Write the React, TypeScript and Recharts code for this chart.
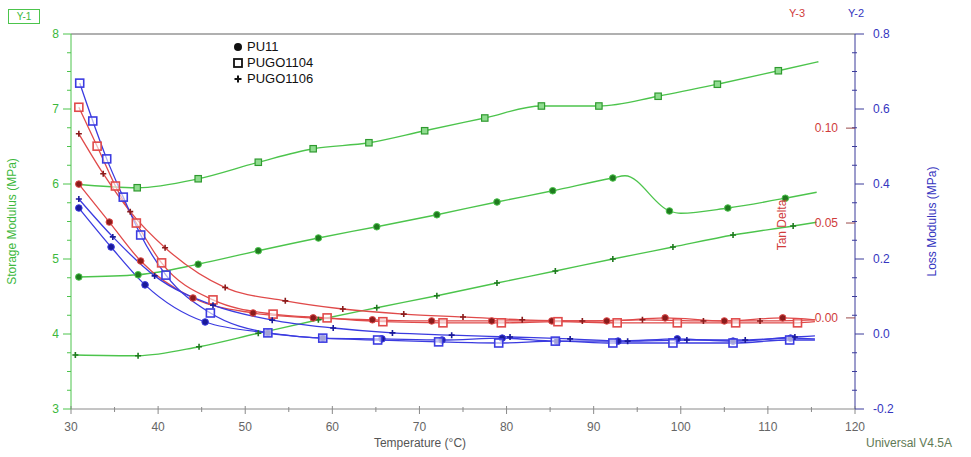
import { ComposedChart, Line, XAxis, YAxis, ReferenceLine } from 'recharts';

// temperature ticks (°C)
const X_MAJOR = [30, 40, 50, 60, 70, 80, 90, 100, 110, 120];
const X_MINOR = [35, 45, 55, 65, 75, 85, 95, 105, 115];
// storage modulus ticks (MPa)
const SM_MAJOR = [3, 4, 5, 6, 7, 8];
const SM_MINOR = [3.25, 3.5, 3.75, 4.25, 4.5, 4.75, 5.25, 5.5, 5.75, 6.25, 6.5, 6.75, 7.25, 7.5, 7.75];
// loss modulus ticks (MPa)
const LM_MAJOR = [-0.2, 0, 0.2, 0.4, 0.6, 0.8];
const LM_MINOR = [-0.15, -0.1, -0.05, 0.05, 0.1, 0.15, 0.25, 0.3, 0.35, 0.45, 0.5, 0.55, 0.65, 0.7, 0.75];
// tan delta ticks
const TD_TICKS = [0, 0.05, 0.1];

// storage modulus
const SM_PU11_T = [30.9, 37.7, 44.6, 51.5, 58.4, 65.1, 72.0, 78.9, 85.3, 92.2, 93.6, 98.7, 100.0, 105.4, 112.0, 115.6];
const SM_PU11 = [4.76, 4.79, 4.93, 5.11, 5.28, 5.43, 5.59, 5.76, 5.91, 6.08, 6.11, 5.64, 5.61, 5.68, 5.81, 5.89];
const SM_1104_T = [30.5, 37.6, 44.6, 51.5, 57.8, 64.2, 70.6, 77.5, 84.0, 90.6, 97.4, 104.2, 111.2, 115.8];
const SM_1104 = [6.0, 5.95, 6.07, 6.29, 6.47, 6.55, 6.71, 6.88, 7.04, 7.04, 7.17, 7.33, 7.51, 7.63];
const SM_1106_T = [30.5, 37.7, 44.7, 51.5, 58.4, 65.1, 72.0, 78.9, 85.6, 92.2, 99.1, 106.0, 112.9, 115.6];
const SM_1106 = [3.72, 3.71, 3.83, 4.01, 4.19, 4.35, 4.51, 4.68, 4.84, 5.0, 5.16, 5.32, 5.44, 5.49];

// loss modulus
const LM_PU11_T = [30.9, 34.6, 38.5, 45.4, 52.6, 58.9, 65.7, 72.6, 79.5, 85.8, 92.8, 99.6, 106.0, 112.6, 115.4];
const LM_PU11 = [0.336, 0.232, 0.131, 0.032, 0.003, -0.011, -0.013, -0.016, -0.011, -0.019, -0.019, -0.013, -0.019, -0.011, -0.013];
const LM_1104_T = [31.0, 32.5, 34.1, 36.0, 38.0, 40.9, 46.0, 52.6, 58.9, 65.2, 72.2, 79.1, 85.6, 92.2, 99.1, 106.0, 112.5, 115.4];
const LM_1104 = [0.669, 0.568, 0.467, 0.365, 0.264, 0.157, 0.056, 0.003, -0.011, -0.016, -0.021, -0.024, -0.019, -0.024, -0.024, -0.024, -0.016, -0.016];
const LM_1106_T = [30.9, 34.8, 39.6, 46.3, 53.1, 60.1, 66.9, 73.7, 80.4, 87.3, 93.9, 100.7, 107.4, 113.1, 115.4];
const LM_1106 = [0.36, 0.259, 0.155, 0.077, 0.037, 0.016, 0.003, -0.003, -0.008, -0.013, -0.019, -0.016, -0.016, -0.008, -0.005];

// tan delta
const TD_PU11_T = [30.9, 34.4, 38.0, 44.0, 50.9, 57.8, 64.6, 71.4, 78.3, 85.2, 91.5, 98.2, 105.0, 111.7, 115.4];
const TD_PU11 = [0.0705, 0.0505, 0.03, 0.0105, 0.0026, 0.0, -0.001, -0.0016, -0.0016, -0.0016, -0.0016, 0.0, -0.0016, 0.0, -0.001];
const TD_1104_T = [30.9, 33.0, 35.1, 37.5, 40.4, 46.3, 53.2, 59.4, 65.8, 72.7, 79.4, 85.9, 92.7, 99.6, 106.3, 113.4, 115.4];
const TD_1104 = [0.111, 0.0905, 0.0695, 0.05, 0.029, 0.0095, 0.002, 0.0, -0.002, -0.0026, -0.0026, -0.002, -0.0026, -0.0026, -0.0026, -0.0026, -0.002];
const TD_1106_T = [30.9, 33.7, 36.8, 40.8, 47.7, 54.6, 61.2, 68.2, 75.0, 81.8, 88.7, 95.6, 102.6, 109.1, 115.4];
const TD_1106 = [0.097, 0.076, 0.056, 0.037, 0.016, 0.009, 0.0047, 0.002, 0.0005, -0.001, -0.0016, -0.001, -0.0016, -0.0016, -0.001];

const LEGEND = ['PU11', 'PUGO1104', 'PUGO1106'];

const W = 971;
const H = 457;
const PLOT = { left: 71, right: 855, top: 34, bottom: 409 };
const FONT = '"Liberation Sans", Arial, sans-serif';

const GREEN = '#4cc44c';
const GREEN_DARK = '#1f7a1f';
const GREEN_TEXT = '#3cb83c';
const BLUE = '#3b3be0';
const BLUE_DARK = '#1a1a9a';
const BLUE_TEXT = '#3535c0';
const RED = '#e04a4a';
const RED_DARK = '#8a1c1c';
const RED_TEXT = '#d03c3c';
const AXIS_GRAY = '#8a8a8a';

type Shape = 'circle' | 'square' | 'plus';

const rows = (t: number[], v: number[]) => t.map((x, i) => ({ t: x, v: v[i] }));

const byAsc = (a: number, b: number) => a - b;

// draws a marker; indices in `bare` are plain curve vertices without a symbol
const makeDot = (shape: Shape, stroke: string, fill: string, bare: number[], small = false) => (props: any) => {
  const { cx, cy, index } = props;
  if (cx == null || cy == null || bare.includes(index)) return <g key={`d${index}`} />;
  if (shape === 'circle') {
    return <circle key={`d${index}`} cx={cx} cy={cy} r={3.3} fill={fill} stroke={stroke} strokeWidth={1} />;
  }
  if (shape === 'square') {
    const h = small ? 3.2 : 4;
    return (
      <rect key={`d${index}`} x={cx - h} y={cy - h} width={2 * h} height={2 * h}
        fill={small ? '#8fdc8f' : '#ffffff'} fillOpacity={small ? 1 : 0.6}
        stroke={small ? '#2f9a2f' : stroke} strokeWidth={small ? 1.2 : 1.6} />
    );
  }
  return (
    <path key={`d${index}`} d={`M${cx - 3},${cy}H${cx + 3}M${cx},${cy - 3}V${cy + 3}`} stroke={fill} strokeWidth={1.6} />
  );
};

type Series = {
  id: string; axis: string; data: { t: number; v: number }[]; color: string; dark: string; shape: Shape; bare: number[]; small?: boolean;
};

const SERIES: Series[] = [
  { id: 'sm-pu11', axis: 'sm', data: rows(SM_PU11_T, SM_PU11), color: GREEN, dark: GREEN_DARK, shape: 'circle', bare: [10, 12, 15] },
  { id: 'sm-1104', axis: 'sm', data: rows(SM_1104_T, SM_1104), color: GREEN, dark: GREEN_DARK, shape: 'square', bare: [0, 13], small: true },
  { id: 'sm-1106', axis: 'sm', data: rows(SM_1106_T, SM_1106), color: GREEN, dark: GREEN_DARK, shape: 'plus', bare: [13] },
  { id: 'td-pu11', axis: 'td', data: rows(TD_PU11_T, TD_PU11), color: RED, dark: RED_DARK, shape: 'circle', bare: [14] },
  { id: 'td-1104', axis: 'td', data: rows(TD_1104_T, TD_1104), color: RED, dark: RED_DARK, shape: 'square', bare: [16] },
  { id: 'td-1106', axis: 'td', data: rows(TD_1106_T, TD_1106), color: RED, dark: RED_DARK, shape: 'plus', bare: [14] },
  { id: 'lm-pu11', axis: 'lm', data: rows(LM_PU11_T, LM_PU11), color: BLUE, dark: BLUE_DARK, shape: 'circle', bare: [14] },
  { id: 'lm-1104', axis: 'lm', data: rows(LM_1104_T, LM_1104), color: BLUE, dark: BLUE_DARK, shape: 'square', bare: [17] },
  { id: 'lm-1106', axis: 'lm', data: rows(LM_1106_T, LM_1106), color: BLUE, dark: BLUE_DARK, shape: 'plus', bare: [14] },
];

const XTick = ({ x, payload }: any) => {
  const major = X_MAJOR.includes(payload.value);
  return (
    <g>
      <line x1={x} x2={x} y1={PLOT.bottom - (major ? 3 : 2)} y2={PLOT.bottom + (major ? 5 : 3)} stroke={AXIS_GRAY} />
      {major && (
        <text x={x} y={431} textAnchor="middle" fill="#666" fontSize={12} fontFamily={FONT}>
          {payload.value}
        </text>
      )}
    </g>
  );
};

const SmTick = ({ y, payload }: any) => {
  const major = SM_MAJOR.includes(payload.value);
  return (
    <g>
      <line x1={PLOT.left - (major ? 8 : 4)} x2={PLOT.left} y1={y} y2={y} stroke={GREEN} />
      {major && (
        <text x={59} y={y + 4} textAnchor="end" fill={GREEN_TEXT} fontSize={12} fontFamily={FONT}>
          {payload.value}
        </text>
      )}
    </g>
  );
};

const LmTick = ({ y, payload }: any) => {
  const major = LM_MAJOR.includes(payload.value);
  return (
    <g>
      {major ? (
        <line x1={PLOT.right} x2={PLOT.right + 9} y1={y} y2={y} stroke="#3a3a9a" />
      ) : (
        <line x1={PLOT.right - 3} x2={PLOT.right + 2} y1={y} y2={y} stroke="#3a3a9a" />
      )}
      {major && (
        <text x={873} y={y + 4} textAnchor="start" fill={BLUE_TEXT} fontSize={12} fontFamily={FONT}>
          {payload.value.toFixed(1)}
        </text>
      )}
    </g>
  );
};

const TdTick = ({ y, payload }: any) => (
  <g>
    <line x1={PLOT.right - 9} x2={PLOT.right} y1={y} y2={y} stroke="#9a4a4a" />
    <text x={838} y={y + 4} textAnchor="end" fill={RED_TEXT} fontSize={12} fontFamily={FONT}>
      {payload.value.toFixed(2)}
    </text>
  </g>
);

const LegendMark = ({ shape }: { shape: Shape }) => (
  <svg width={10} height={10} style={{ marginRight: 4 }}>
    {shape === 'circle' && <circle cx={5} cy={5} r={4} fill="#111" />}
    {shape === 'square' && <rect x={1} y={1} width={8} height={8} fill="none" stroke="#111" strokeWidth={1.8} />}
    {shape === 'plus' && <path d="M1.5,5H8.5M5,1.5V8.5" stroke="#111" strokeWidth={2} />}
  </svg>
);

const LEGEND_SHAPES: Shape[] = ['circle', 'square', 'plus'];

export default function App() {
  return (
    <div style={{ position: 'absolute', left: 0, top: 0, width: W, height: H, background: '#fff', fontFamily: FONT }}>
      <ComposedChart width={W} height={H} margin={{ top: PLOT.top, right: 30, bottom: 0, left: 0 }} style={{ fontFamily: FONT }}>
        <XAxis
          dataKey="t"
          type="number"
          domain={[30, 120]}
          allowDataOverflow
          ticks={[...X_MAJOR, ...X_MINOR].sort(byAsc)}
          interval={0}
          height={48}
          stroke={AXIS_GRAY}
          tickLine={false}
          tick={<XTick />}
          label={{ value: 'Temperature (°C)', position: 'insideBottom', offset: 10, dx: -43, fill: '#555', fontSize: 12 }}
        />
        <YAxis
          yAxisId="sm"
          orientation="left"
          type="number"
          domain={[3, 8]}
          allowDataOverflow
          ticks={[...SM_MAJOR, ...SM_MINOR].sort(byAsc)}
          interval={0}
          width={PLOT.left}
          stroke={GREEN}
          tickLine={false}
          tick={<SmTick />}
          label={{
            value: 'Storage Modulus (MPa)',
            angle: -90,
            position: 'insideLeft',
            offset: 12,
            fill: GREEN_TEXT,
            fontSize: 12,
            style: { textAnchor: 'middle' },
          }}
        />
        <YAxis
          yAxisId="lm"
          orientation="right"
          type="number"
          domain={[-0.2, 0.8]}
          allowDataOverflow
          ticks={[...LM_MAJOR, ...LM_MINOR].sort(byAsc)}
          interval={0}
          width={85}
          stroke="#3a3a9a"
          tickLine={false}
          tick={<LmTick />}
          label={{
            value: 'Loss Modulus (MPa)',
            angle: -90,
            position: 'insideRight',
            offset: 8,
            fill: BLUE_TEXT,
            fontSize: 12,
            style: { textAnchor: 'middle' },
          }}
        />
        <YAxis
          yAxisId="td"
          orientation="right"
          type="number"
          domain={[-0.048, 0.1496]}
          allowDataOverflow
          ticks={TD_TICKS}
          interval={0}
          width={1}
          axisLine={false}
          tickLine={false}
          tick={<TdTick />}
        />
        <ReferenceLine yAxisId="sm" y={8} stroke="#b0b0b0" strokeWidth={2} />
        {SERIES.map((s) => (
          <Line
            key={s.id}
            yAxisId={s.axis}
            data={s.data}
            dataKey="v"
            type="monotone"
            stroke={s.color}
            strokeWidth={1.3}
            dot={makeDot(s.shape, s.color, s.dark, s.bare, s.small)}
            activeDot={false}
            isAnimationActive={false}
          />
        ))}
      </ComposedChart>

      <div
        style={{
          position: 'absolute', left: 8, top: 9, width: 30, height: 13, border: `1px solid ${GREEN}`,
          color: GREEN_TEXT, fontSize: 10, lineHeight: '13px', textAlign: 'center',
        }}
      >
        Y-1
      </div>
      <div style={{ position: 'absolute', left: 789, top: 7, fontSize: 11, color: RED_TEXT }}>Y-3</div>
      <div style={{ position: 'absolute', left: 848, top: 7, fontSize: 11, color: BLUE_TEXT }}>Y-2</div>
      <div style={{ position: 'absolute', left: 866, top: 436, fontSize: 12, color: '#5f7a55' }}>Universal V4.5A</div>
      <div
        style={{
          position: 'absolute', left: 782, top: 225, fontSize: 12, color: RED_TEXT, whiteSpace: 'nowrap',
          transform: 'translate(-50%, -50%) rotate(-90deg)',
        }}
      >
        Tan Delta
      </div>
      <div style={{ position: 'absolute', left: 233, top: 39, fontSize: 13, color: '#111', lineHeight: '16px' }}>
        {LEGEND.map((name, i) => (
          <div key={name} style={{ display: 'flex', alignItems: 'center' }}>
            <LegendMark shape={LEGEND_SHAPES[i]} />
            {name}
          </div>
        ))}
      </div>
    </div>
  );
}
